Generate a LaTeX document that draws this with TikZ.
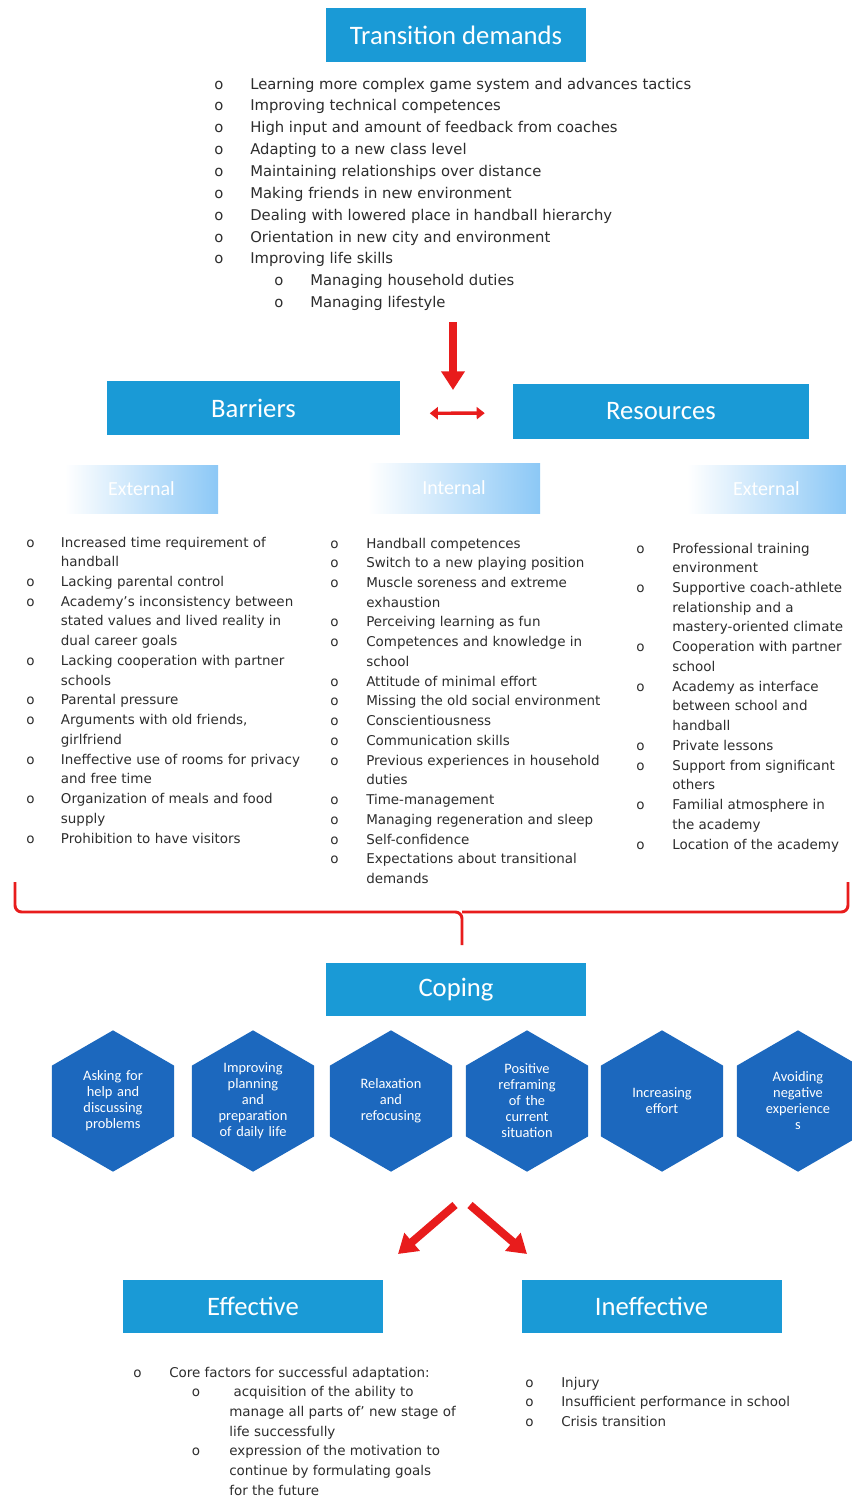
\documentclass[tikz,border=0pt]{standalone}
\usepackage{fontspec}
\setmainfont{Carlito}
\newfontfamily\listfont{DejaVu Sans}
\usetikzlibrary{arrows.meta,shapes.geometric}

\definecolor{headblue}{RGB}{26,154,214}
\definecolor{hexblue}{RGB}{28,104,190}
\definecolor{arrowred}{RGB}{232,28,28}
\definecolor{fadeblue}{RGB}{140,200,246}
\definecolor{listgray}{RGB}{45,45,45}

\tikzset{
  headbox/.style={fill=headblue, text=white, inner sep=0pt,
    minimum width=195pt, minimum height=40pt, font=\fontsize{20}{24}\selectfont},
  subhead/.style={left color=white, right color=fadeblue, text=white, inner sep=0pt,
    minimum width=118pt, minimum height=36pt, font=\fontsize{15}{18}\selectfont},
  listblock/.style={inner sep=0pt, text=listgray, anchor=base west,
    font=\listfont\fontsize{10.1}{14.8}\selectfont},
  toplist/.style={listblock, font=\listfont\fontsize{11.1}{16.4}\selectfont},
  hexcell/.style={regular polygon, regular polygon sides=6, shape border rotate=30,
    fill=hexblue, text=white, inner sep=0pt, minimum size=106pt,
    text width=58pt, align=center, font=\fontsize{10.8}{12}\selectfont},
  bigarrow/.style={draw=arrowred, line width=6pt, -{Triangle[width=17pt,length=14pt]}},
  dblarrow/.style={draw=arrowred, line width=2.6pt,
    {Triangle[width=9pt,length=6pt]}-{Triangle[width=9pt,length=6pt]}},
  redbrace/.style={draw=arrowred, line width=2.2pt, rounded corners=5pt}
}

\newcommand\subbul{\hspace{17pt}\makebox[28pt][l]{o}}

\begin{document}
\begin{tikzpicture}[x=0.75pt,y=-0.75pt]

  \fill[white] (0,0) rectangle (851,1499);
  \useasboundingbox (0,0) rectangle (851,1499);

  % demands
  \node[headbox] (demands) at (456,35) {Transition demands};

  \node[toplist] (demlist) at (214,89) {\begin{tabular}[t]{@{}p{27pt}@{}l@{}}
    o & Learning more complex game system and advances tactics\\
    o & Improving technical competences\\
    o & High input and amount of feedback from coaches\\
    o & Adapting to a new class level\\
    o & Maintaining relationships over distance\\
    o & Making friends in new environment\\
    o & Dealing with lowered place in handball hierarchy\\
    o & Orientation in new city and environment\\
    o & Improving life skills\\
      & \hspace{18pt}\makebox[27pt][l]{o}Managing household duties\\
      & \hspace{18pt}\makebox[27pt][l]{o}Managing lifestyle
  \end{tabular}};

  \coordinate (demout) at (453,322);
  \coordinate (demin) at (453,390);
  \draw[bigarrow] (demout) -- (demin);

  % barriers and resources
  \node[headbox, minimum width=220pt] (barriers) at (253.5,408) {Barriers};
  \node[headbox, minimum width=222pt, minimum height=41pt] (resources) at (661,411.5) {Resources};

  \draw[dblarrow, shorten <=22pt, shorten >=21pt]
    ([yshift=-4pt]barriers.east) -- ([yshift=-1.2pt]resources.west);

  \node[subhead, minimum width=115pt] (extleft) at (141.5,489) {External};
  \node[subhead, minimum width=129pt, minimum height=37.5pt] (intmid) at (454,488) {Internal};
  \node[subhead, minimum width=119pt] (extright) at (766.5,489) {External};

  \node[listblock] (leftlist) at (26,547) {\begin{tabular}[t]{@{}p{26pt}@{}l@{}}
    o & Increased time requirement of\\
      & handball\\
    o & Lacking parental control\\
    o & Academy’s inconsistency between\\
      & stated values and lived reality in\\
      & dual career goals\\
    o & Lacking cooperation with partner\\
      & schools\\
    o & Parental pressure\\
    o & Arguments with old friends,\\
      & girlfriend\\
    o & Ineffective use of rooms for privacy\\
      & and free time\\
    o & Organization of meals and food\\
      & supply\\
    o & Prohibition to have visitors
  \end{tabular}};

  \node[listblock] (midlist) at (330,548) {\begin{tabular}[t]{@{}p{27pt}@{}l@{}}
    o & Handball competences\\
    o & Switch to a new playing position\\
    o & Muscle soreness and extreme\\
      & exhaustion\\
    o & Perceiving learning as fun\\
    o & Competences and knowledge in\\
      & school\\
    o & Attitude of minimal effort\\
    o & Missing the old social environment\\
    o & Conscientiousness\\
    o & Communication skills\\
    o & Previous experiences in household\\
      & duties\\
    o & Time-management\\
    o & Managing regeneration and sleep\\
    o & Self-confidence\\
    o & Expectations about transitional\\
      & demands
  \end{tabular}};

  \node[listblock] (rightlist) at (636,553) {\begin{tabular}[t]{@{}p{27pt}@{}l@{}}
    o & Professional training\\
      & environment\\
    o & Supportive coach-athlete\\
      & relationship and a\\
      & mastery-oriented climate\\
    o & Cooperation with partner\\
      & school\\
    o & Academy as interface\\
      & between school and\\
      & handball\\
    o & Private lessons\\
    o & Support from significant\\
      & others\\
    o & Familial atmosphere in\\
      & the academy\\
    o & Location of the academy
  \end{tabular}};

  % brace
  \coordinate (braceL) at (15,882);
  \coordinate (braceR) at (848,882);
  \coordinate (braceM) at (462,912);
  \coordinate (braceTip) at (462,945);
  \draw[redbrace] (braceL) |- (braceM) -- (braceTip);
  \draw[redbrace] (braceR) |- (braceM);

  % coping
  \node[headbox] (coping) at (456,989.5) {Coping};

  \foreach \hx/\hlab [count=\i] in {
      113/{Asking for\\help and\\discussing\\problems},
      253/{Improving\\planning\\and\\preparation\\of daily life},
      391/{Relaxation\\and\\refocusing},
      527/{Positive\\reframing\\of the\\current\\situation},
      662/{Increasing\\effort},
      798/{Avoiding\\negative\\experience\\s}}
    \node[hexcell] (hex\i) at (\hx,1101) {\hlab};

  \coordinate (forkL) at (455,1205);
  \coordinate (forkR) at (470,1205);
  \coordinate (toEff) at (398,1254);
  \coordinate (toIneff) at (527,1254);
  \draw[bigarrow] (forkL) -- (toEff);
  \draw[bigarrow] (forkR) -- (toIneff);

  % outcomes
  \node[headbox] (effective) at (253,1306.5) {Effective};
  \node[headbox] (ineffective) at (651.5,1306.5) {Ineffective};

  \node[listblock] (efflist) at (133,1377) {\begin{tabular}[t]{@{}p{27pt}@{}l@{}}
    o & Core factors for successful adaptation:\\
      & \subbul\ acquisition of the ability to\\
      & \hspace{45pt}manage all parts of’ new stage of\\
      & \hspace{45pt}life successfully\\
      & \subbul expression of the motivation to\\
      & \hspace{45pt}continue by formulating goals\\
      & \hspace{45pt}for the future
  \end{tabular}};

  \node[listblock] (inefflist) at (525,1387) {\begin{tabular}[t]{@{}p{27pt}@{}l@{}}
    o & Injury\\
    o & Insufficient performance in school\\
    o & Crisis transition
  \end{tabular}};

\end{tikzpicture}
\end{document}
